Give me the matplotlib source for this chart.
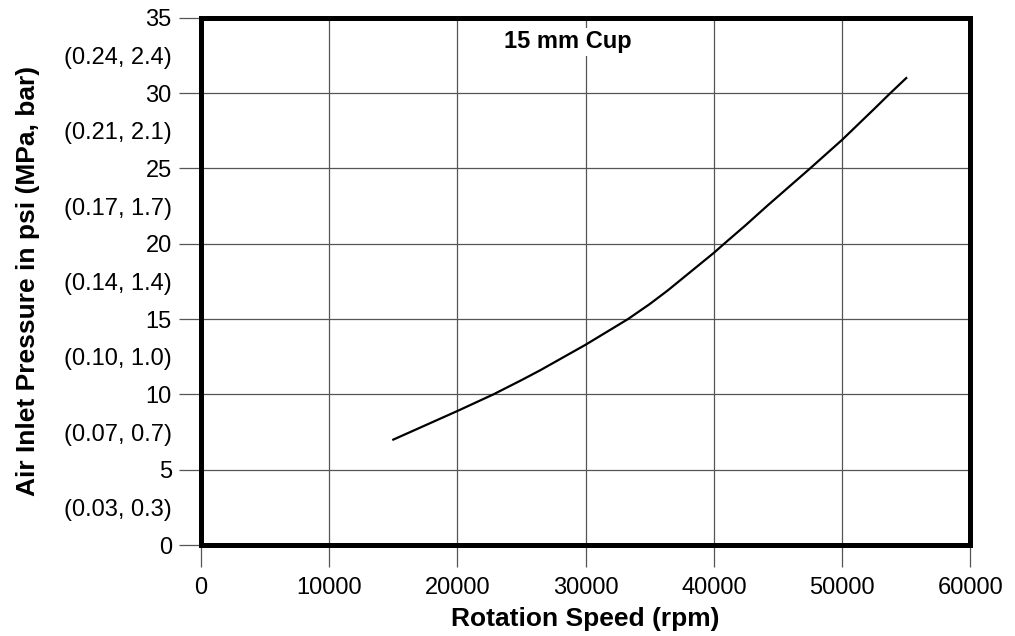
import matplotlib.pyplot as plt

plt.rcParams['font.family'] = ['Liberation Sans', 'DejaVu Sans']

# curve
rpm = [15000, 20000, 22800, 25000, 26450, 30000, 33300, 35000, 36400,
       40000, 40800, 42500, 44200, 47500, 50000, 52500, 53700, 55000]
psi = [7.0, 8.9, 10.0, 10.95, 11.6, 13.3, 15.0, 16.0, 16.9,
       19.4, 20.0, 21.25, 22.55, 25.0, 26.9, 28.95, 29.95, 31.0]

x_ticks = [0, 10000, 20000, 30000, 40000, 50000, 60000]
y_ticks = [0, 5, 10, 15, 20, 25, 30, 35]
y_mid = [2.5, 7.5, 12.5, 17.5, 22.5, 27.5, 32.5]
y_mid_labels = ["(0.03, 0.3)", "(0.07, 0.7)", "(0.10, 1.0)", "(0.14, 1.4)",
                "(0.17, 1.7)", "(0.21, 2.1)", "(0.24, 2.4)"]

fig = plt.figure(figsize=(10.15, 6.36), dpi=100)
ax = fig.add_axes([0.198, 0.143, 0.758, 0.829])

ax.plot(rpm, psi, color='black', lw=1.6, zorder=3)

ax.set_xlim(0, 60000)
ax.set_ylim(0, 35)
ax.set_xticks(x_ticks)
ax.set_yticks(y_ticks)
ax.set_yticks(y_mid, minor=True)
ax.set_yticklabels(y_mid_labels, minor=True)

ax.grid(True, which='major', color='#555555', lw=0.9)
ax.tick_params(axis='y', which='major', length=16, width=0.9, color='#555555',
               labelsize=17, pad=5)
ax.tick_params(axis='y', which='minor', length=0, labelsize=17, pad=21)
ax.tick_params(axis='x', which='major', length=16, width=0.9, color='#555555',
               labelsize=17, pad=7)

for s in ax.spines.values():
    s.set_linewidth(3.6)
    s.set_color('black')
    s.set_zorder(4)

ax.set_xlabel("Rotation Speed (rpm)", fontsize=19, fontweight='bold', labelpad=6)
ax.set_ylabel("Air Inlet Pressure in psi (MPa, bar)", fontsize=19,
              fontweight='bold', labelpad=17)

ax.text(28600, 33.4, "15 mm Cup", fontsize=17, fontweight='bold',
        ha='center', va='center',
        bbox=dict(facecolor='white', edgecolor='none', pad=2))

fig.savefig("out.png", dpi=100)
